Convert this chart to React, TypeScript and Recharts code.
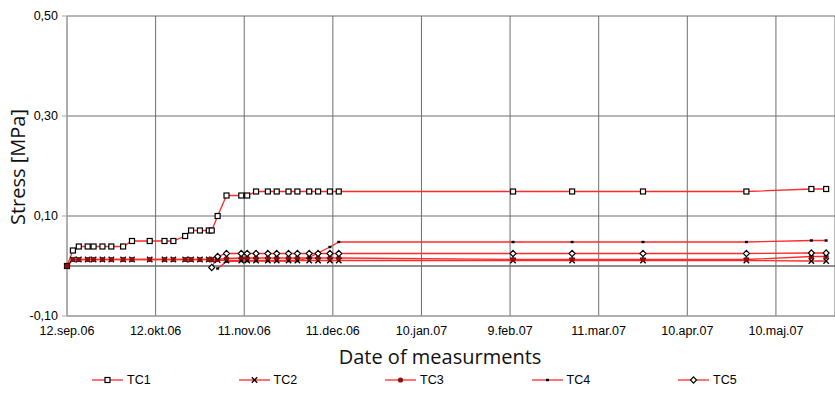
import { LineChart, Line, XAxis, YAxis, CartesianGrid, ReferenceLine } from 'recharts';

// measurement days, counted from 12.sep.06
const days = [
  0, 2, 4, 7, 9, 12, 15, 19, 22, 28, 33, 36, 40, 42, 45, 48, 49, 51, 54, 59,
  61, 64, 68, 71, 75, 78, 82, 85, 89, 92, 151, 171, 195, 230, 252, 257,
];

const tc1 = [
  0, 0.031, 0.039, 0.039, 0.039, 0.039, 0.039, 0.039, 0.05, 0.05, 0.05, 0.05, 0.06, 0.071, 0.071, 0.071, 0.071, 0.1, 0.141, 0.141,
  0.141, 0.149, 0.149, 0.149, 0.149, 0.149, 0.149, 0.149, 0.149, 0.149, 0.149, 0.149, 0.149, 0.149, 0.154, 0.154,
];
const tc2 = [
  0, 0.013, 0.013, 0.013, 0.013, 0.013, 0.013, 0.013, 0.013, 0.013, 0.013, 0.013, 0.013, 0.013, 0.013, 0.013, 0.013, 0.012, 0.011, 0.011,
  0.011, 0.011, 0.011, 0.011, 0.011, 0.011, 0.011, 0.011, 0.011, 0.011, 0.011, 0.011, 0.011, 0.011, 0.01, 0.01,
];
const tc3 = [
  0, 0.013, 0.013, 0.013, 0.013, 0.013, 0.013, 0.013, 0.013, 0.013, 0.013, 0.013, 0.013, 0.013, 0.013, 0.013, 0.013, 0.013, 0.015, 0.016,
  0.016, 0.016, 0.016, 0.016, 0.016, 0.016, 0.016, 0.016, 0.016, 0.016, 0.013, 0.013, 0.013, 0.013, 0.019, 0.019,
];
const tc4 = [
  null, null, null, null, null, null, null, null, null, null, null, null, null, null, null, null, null, -0.005, 0.009, 0.01,
  0.01, 0.01, 0.01, 0.01, 0.01, 0.01, 0.017, 0.026, 0.038, 0.048, 0.048, 0.048, 0.048, 0.048, 0.051, 0.051,
];
const tc5 = [
  null, null, null, null, null, null, null, null, null, null, null, null, null, null, null, null, -0.003, 0.019, 0.025, 0.025,
  0.025, 0.025, 0.025, 0.025, 0.025, 0.025, 0.025, 0.025, 0.025, 0.025, 0.025, 0.025, 0.025, 0.025, 0.026, 0.026,
];

const xTickDays = [0, 30, 60, 90, 120, 150, 180, 210, 240];
const xTickLabels = ['12.sep.06', '12.okt.06', '11.nov.06', '11.dec.06', '10.jan.07', '9.feb.07', '11.mar.07', '10.apr.07', '10.maj.07'];
const yTicks = [-0.1, 0.1, 0.3, 0.5];
const seriesNames = ['TC1', 'TC2', 'TC3', 'TC4', 'TC5'];

const data = days.map((day, i) => ({
  day,
  TC1: tc1[i],
  TC2: tc2[i],
  TC3: tc3[i],
  TC4: tc4[i],
  TC5: tc5[i],
}));

const RED = '#ff2a2a';
const GRID = '#6e6e6e';

const Square = ({ cx, cy }: { cx: number; cy: number }) => (
  <rect x={cx - 2.5} y={cy - 2.5} width={5} height={5} fill="#fff" stroke="#000" strokeWidth={1.2} />
);
const Cross = ({ cx, cy }: { cx: number; cy: number }) => (
  <g stroke="#000" strokeWidth={1.3}>
    <line x1={cx - 2.7} y1={cy - 2.7} x2={cx + 2.7} y2={cy + 2.7} />
    <line x1={cx - 2.7} y1={cy + 2.7} x2={cx + 2.7} y2={cy - 2.7} />
  </g>
);
const Round = ({ cx, cy }: { cx: number; cy: number }) => <circle cx={cx} cy={cy} r={2.6} fill="#8b1010" />;
const Tick = ({ cx, cy }: { cx: number; cy: number }) => (
  <rect x={cx - 1.5} y={cy - 1.2} width={3} height={2.4} fill="#000" />
);
const Diamond = ({ cx, cy }: { cx: number; cy: number }) => (
  <path d={`M${cx},${cy - 3.2}L${cx + 3},${cy}L${cx},${cy + 3.2}L${cx - 3},${cy}Z`} fill="#fff" stroke="#000" strokeWidth={1.2} />
);

const markers = [Square, Cross, Round, Tick, Diamond];

const makeDot = (name: string, Marker: any) => (p: any) => {
  const { cx, cy, index, value } = p;
  if (cx == null || cy == null || value == null) return <g key={`${name}-${index}`} />;
  return (
    <g key={`${name}-${index}`}>
      <Marker cx={cx} cy={cy} />
    </g>
  );
};

function LegendRow() {
  return (
    <div style={{ position: 'absolute', left: 0, top: 371, width: 835, height: 18 }}>
      {seriesNames.map((name, i) => {
        const Marker = markers[i];
        const left = 92 + i * 146.5;
        return (
          <div key={name} style={{ position: 'absolute', left, top: 0, height: 18, display: 'flex', alignItems: 'center' }}>
            <svg width={32} height={18}>
              <line x1={0} y1={9} x2={31} y2={9} stroke={RED} strokeWidth={1.3} />
              <Marker cx={15.5} cy={9} />
            </svg>
            <span style={{ marginLeft: 3, fontFamily: '"Liberation Sans", Arial, sans-serif', fontSize: 12.5, color: '#000' }}>{name}</span>
          </div>
        );
      })}
    </div>
  );
}

export default function App() {
  return (
    <div style={{ position: 'absolute', left: 0, top: 0, width: 835, height: 399, background: '#fff' }}>
      <LineChart width={835} height={399} data={data} margin={{ top: 16, right: 0, bottom: 0, left: 0 }}>
        <CartesianGrid stroke={GRID} strokeWidth={1} />
        <XAxis
          dataKey="day"
          type="number"
          domain={[0, 260]}
          ticks={xTickDays}
          interval={0}
          tickFormatter={(d: number) => xTickLabels[xTickDays.indexOf(d)] ?? ''}
          height={83}
          axisLine={{ stroke: '#a6a6a6' }}
          tickLine={false}
          tickSize={0}
          tickMargin={10}
          tick={{ fontSize: 12.5, fill: '#000', fontFamily: '"Liberation Sans", Arial, sans-serif' }}
          label={{
            content: () => (
              <text x={440} y={364} textAnchor="middle" fontSize={20} fill="#111" fontFamily='"Open Sans", sans-serif'>
                Date of measurments
              </text>
            ),
          }}
        />
        <YAxis
          type="number"
          domain={[-0.1, 0.5]}
          ticks={yTicks}
          interval={0}
          width={67}
          tickFormatter={(v: number) => v.toFixed(2).replace('.', ',')}
          axisLine={{ stroke: '#a6a6a6' }}
          tickLine={{ stroke: '#a6a6a6' }}
          tickSize={5}
          tickMargin={4}
          tick={{ fontSize: 12.5, fill: '#000', fontFamily: '"Liberation Sans", Arial, sans-serif' }}
          label={{
            content: () => (
              <text
                x={25}
                y={167}
                transform="rotate(-90 25 167)"
                textAnchor="middle"
                fontSize={20}
                fill="#111"
                fontFamily='"Open Sans", sans-serif'
              >
                Stress [MPa]
              </text>
            ),
          }}
        />
        <ReferenceLine y={0} stroke="#6a6a6a" strokeWidth={1.3} />
        {seriesNames.map((name, i) => (
          <Line
            key={name}
            type="linear"
            dataKey={name}
            stroke={RED}
            strokeWidth={1.3}
            dot={makeDot(name, markers[i])}
            activeDot={false}
            isAnimationActive={false}
          />
        ))}
      </LineChart>
      <LegendRow />
    </div>
  );
}
